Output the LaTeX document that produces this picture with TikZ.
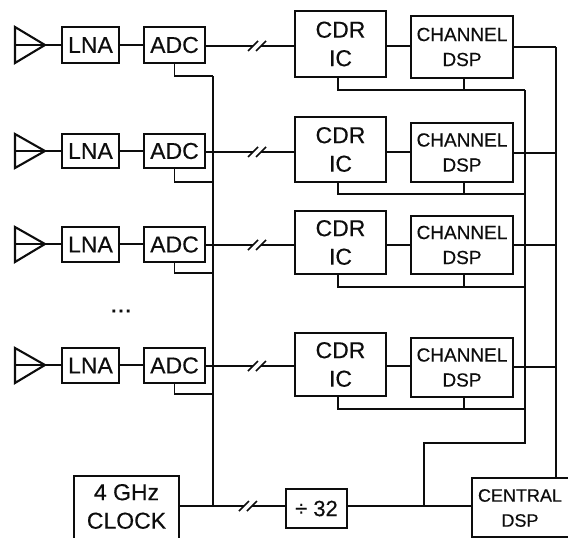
\documentclass[tikz,border=0pt]{standalone}
\usepackage{fontspec}
\setmainfont[FakeBold=0.4]{Liberation Sans}
\begin{document}
\begin{tikzpicture}[x=1pt,y=-1pt,
  blk/.style={draw=ink,line width=2.1pt,rectangle,inner sep=0pt,outer sep=0pt,align=center},
  wire/.style={draw=ink,line width=1.8pt,line join=miter},
  slashln/.style={draw=ink,line width=1.5pt},
  bigt/.style={font=\fontsize{23}{28.5}\selectfont,text=ink},
  smallt/.style={font=\fontsize{19}{25}\selectfont,text=ink},
]
\definecolor{ink}{gray}{0.05}
\clip (0,0) rectangle (568,538);
\foreach \n/\a/\b/\m/\l/\s/\ct/\cb/\dt/\db/\u/\o in {
  1/27/63/45/46/76/11/77/16/78/90/47,
  2/134/168/151/152/182/117/182/123/182/194/153,
  3/227/262/244/245/273/211/274/216/274/287/245,
  4/348/383/365/366/394/333/396/338/397/409/367}{
  % boxes
  \node[blk,bigt,minimum width=57pt,minimum height=\b pt-\a pt] (lna\n) at (90.5,{(\a+\b)/2}) {LNA};
  \node[blk,bigt,minimum width=61pt,minimum height=\b pt-\a pt] (adc\n) at (174.5,{(\a+\b)/2}) {ADC};
  \node[blk,bigt,minimum width=91pt,minimum height=\cb pt-\ct pt] (cdr\n) at (340.5,{(\ct+\cb)/2}) {CDR\\IC};
  \node[blk,smallt,minimum width=102pt,minimum height=\db pt-\dt pt] (dsp\n) at (462,{(\dt+\db)/2}) {CHANNEL\\DSP};
  % antenna
  \coordinate (ta\n) at (15,\a);
  \coordinate (tb\n) at (15,\b);
  \coordinate (tm\n) at (15,\m);
  \coordinate (tp\n) at (45,\m);
  \draw[blk] (ta\n) -- (tp\n) -- (tb\n) -- cycle;
  \draw[wire] (tm\n) -- (lna\n.west |- tm\n);
  \draw[wire] (lna\n.east |- tm\n) -- (adc\n.west |- tm\n);
  % multi-bit link to CDR
  \coordinate (ly\n) at (0,\l);
  \coordinate (sa\n) at (253,\l);
  \coordinate (sb\n) at (261,\l);
  \draw[wire] (adc\n.east |- ly\n) -- (sa\n);
  \draw[wire] (sb\n) -- (cdr\n.west |- ly\n);
  \draw[slashln] ([shift={(-5,5)}]sa\n) -- ([shift={(5,-5)}]sa\n);
  \draw[slashln] ([shift={(-5,5)}]sb\n) -- ([shift={(5,-5)}]sb\n);
  \draw[wire] (cdr\n.east |- ly\n) -- (dsp\n.west |- ly\n);
  % clock stubs
  \coordinate (ck\n) at (213,\s);
  \draw[wire] (adc\n.south) |- (ck\n);
  \coordinate (bus\n) at (525,\u);
  \draw[wire] ([xshift=-2.5pt]cdr\n.south) |- (bus\n);
  \draw[wire] ([xshift=2pt]dsp\n.south) -- ([xshift=2pt]dsp\n.south |- bus\n);
  % output
  \coordinate (out\n) at (556,\o);
  \draw[wire] (dsp\n.east |- out\n) -- (out\n);
}
\node[text=ink,font=\fontsize{26}{26}\selectfont,inner sep=0pt] (dots) at (121,311) {...};
% bottom row
\node[blk,minimum width=105pt,minimum height=72pt] (clk) at (126.5,512) {};
\node[bigt,align=center,inner sep=0pt] (clkt) at (126.5,506.5) {4 GHz\\CLOCK};
\node[blk,font=\fontsize{22}{25}\selectfont,text=ink,minimum width=61pt,minimum height=39pt] (div) at (316.5,508.5) {÷ 32};
\node[blk,minimum width=106pt,minimum height=59pt] (cen) at (525,507.5) {};
\node[font=\fontsize{18}{25}\selectfont,text=ink,align=center,inner sep=0pt] (cent) at (520,508) {CENTRAL\\DSP};
\coordinate (cy) at (0,506);
\coordinate (sc) at (244,506);
\coordinate (sd) at (252,506);
\coordinate (jn) at (213,506);
\coordinate (tap) at (424,506);
\coordinate (bend) at (525,443);
\draw[wire] (clk.east |- cy) -- (sc);
\draw[wire] (sd) -- (div.west |- cy);
\draw[slashln] ([shift={(-5,5)}]sc) -- ([shift={(5,-5)}]sc);
\draw[slashln] ([shift={(-5,5)}]sd) -- ([shift={(5,-5)}]sd);
\draw[wire] (ck1) -- (jn);
\draw[wire] (div.east |- cy) -- (cen.west |- cy);
\draw[wire] (bus1) -- (bend) -| (tap);
\draw[wire] (out1) -- (out1 |- cen.north);
\end{tikzpicture}
\end{document}
